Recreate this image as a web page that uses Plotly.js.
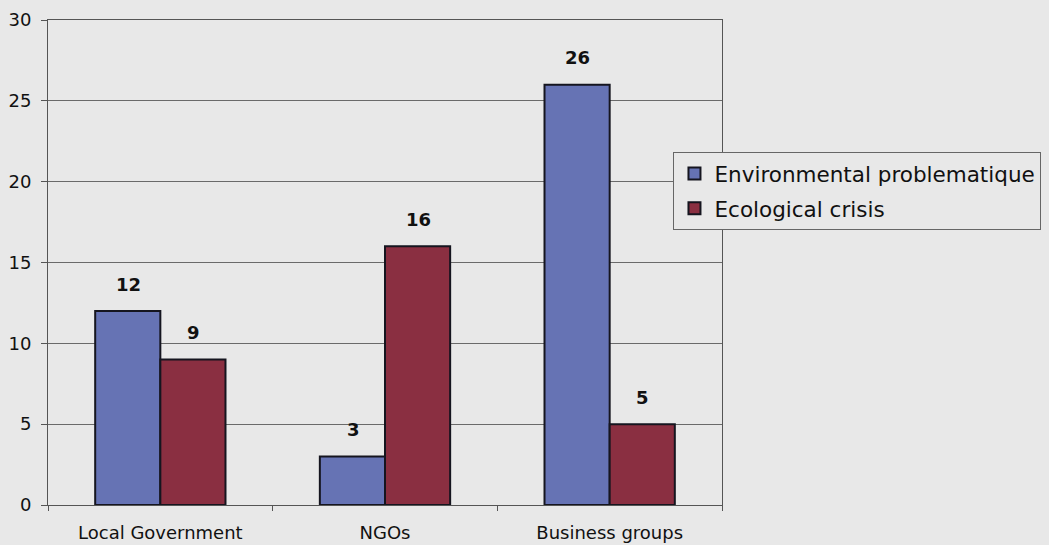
<!DOCTYPE html>
<html>
<head>
<meta charset="utf-8">
<script src="https://cdn.plot.ly/plotly-3.0.1.min.js"></script>
<style>
  html, body { margin: 0; padding: 0; background: #e8e8e8; }
  #chart { width: 1049px; height: 545px; }
</style>
</head>
<body>
<div id="chart"></div>
<script>
// Mentions by actor group
const categories = ['Local Government', 'NGOs', 'Business groups'];
const environmentalProblematique = [12, 3, 26];
const ecologicalCrisis = [9, 16, 5];
const seriesNames = ['Environmental problematique', 'Ecological crisis'];
const yTicks = [0, 5, 10, 15, 20, 25, 30];

const FONT = 'DejaVu Sans, Verdana, sans-serif';
const colors = ['#6673b4', '#8a2f41'];
const seriesValues = [environmentalProblematique, ecologicalCrisis];

const traces = seriesValues.map((vals, i) => ({
  type: 'bar',
  name: seriesNames[i],
  legendgroup: 'g' + i,
  x: categories,
  y: vals,
  marker: { color: colors[i], line: { color: '#15151f', width: 2 } },
  hoverinfo: 'skip'
}));

// Value labels above each bar
const annotations = [];
seriesValues.forEach((vals, i) => {
  vals.forEach((v, j) => {
    annotations.push({
      x: categories[j], y: v, xref: 'x', yref: 'y',
      text: '<b>' + v + '</b>', showarrow: false,
      xshift: i === 0 ? -32 : 33, yshift: 27,
      font: { family: FONT, size: 18, color: '#111' }
    });
  });
});

const layout = {
  width: 1049, height: 545,
  paper_bgcolor: '#e8e8e8',
  plot_bgcolor: '#e8e8e8',
  margin: { l: 48, r: 327, t: 20, b: 40, autoexpand: false },
  barmode: 'group',
  bargap: 0.42,
  bargroupgap: 0,
  showlegend: true,
  legend: {
    x: 0.928, xanchor: 'left', y: 0.728, yanchor: 'top',
    bgcolor: '#e8e8e8', bordercolor: '#666', borderwidth: 1,
    font: { family: FONT, size: 21.5, color: '#111' },
    tracegroupgap: 4, itemwidth: 30
  },
  xaxis: {
    type: 'category',
    showline: true, linecolor: '#555', linewidth: 1, mirror: true,
    ticks: 'outside', tickson: 'boundaries', ticklen: 5, tickcolor: '#555',
    ticklabelstandoff: 11,
    tickfont: { family: FONT, size: 18, color: '#111' },
    showgrid: false
  },
  yaxis: {
    range: [0, 30],
    tickvals: yTicks,
    showline: true, linecolor: '#555', linewidth: 1, mirror: true,
    ticks: 'outside', ticklen: 6, tickcolor: '#555',
    ticklabelstandoff: 6,
    showgrid: true, gridcolor: '#6a6a6a', gridwidth: 1,
    zeroline: false,
    tickfont: { family: FONT, size: 18, color: '#111' }
  },
  annotations: annotations
};

Plotly.newPlot('chart', traces, layout, { displayModeBar: false, staticPlot: true });
</script>
</body>
</html>
